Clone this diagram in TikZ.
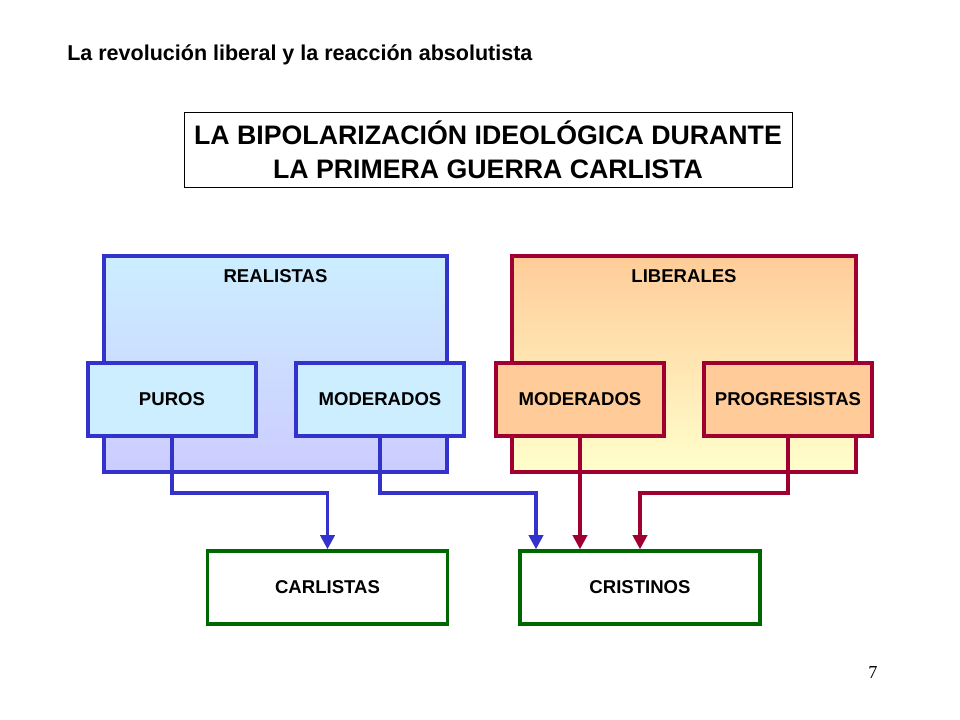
\documentclass[tikz,border=0pt]{standalone}
\usepackage{fontspec}
\setmainfont{Liberation Serif}
\setsansfont{Liberation Sans}
\usepackage{xcolor}
\usetikzlibrary{arrows.meta, positioning, calc}
\definecolor{realblue}{HTML}{3333CC}
\definecolor{libred}{HTML}{A00030}
\definecolor{resgreen}{HTML}{006600}
\definecolor{realtop}{HTML}{CCEEFF}
\definecolor{realbot}{HTML}{CCCCFF}
\definecolor{libtop}{HTML}{FFCC99}
\definecolor{libbot}{HTML}{FFFFCC}
\begin{document}
\begin{tikzpicture}[
    x=0.025cm, y=-0.025cm,
    sub/.style={draw, line width=2.4pt, minimum width=4.2cm, minimum height=1.825cm, inner sep=0pt, font=\sffamily\bfseries\fontsize{13.2}{15}\selectfont},
    result/.style={draw=resgreen, fill=white, line width=2.4pt, minimum width=6cm, minimum height=1.825cm, font=\sffamily\bfseries\fontsize{13.2}{15}\selectfont},
    arrow/.style={-{Triangle[length=10pt,width=10pt]}, line width=2.4pt},
]
\useasboundingbox (0,0) rectangle (960,720);

% Headings
\node[anchor=west, inner sep=0pt, font=\sffamily\bfseries\fontsize{15.3}{17}\selectfont] (header) at (67,55) {La revolución liberal y la reacción absolutista};
\node[draw, line width=0.5pt, minimum width=15.2cm, minimum height=1.875cm, align=center,
      font=\sffamily\bfseries\fontsize{19}{24}\selectfont] (title) at (488,149.5)
      {LA BIPOLARIZACIÓN IDEOLÓGICA DURANTE\\LA PRIMERA GUERRA CARLISTA};

% Groups
\filldraw[draw=realblue, line width=2.4pt, top color=realtop, bottom color=realbot] (104,256) rectangle (447,472);
\filldraw[draw=libred, line width=2.4pt, top color=libtop, bottom color=libbot] (512,256) rectangle (856,472);
\node[font=\sffamily\bfseries\fontsize{13.2}{15}\selectfont] (realistas) at (275.5,276) {REALISTAS};
\node[font=\sffamily\bfseries\fontsize{13.2}{15}\selectfont] (liberales) at (684,276) {LIBERALES};

% Factions
\node[sub, draw=realblue, fill=realtop] (puros) at (172,399.5) {PUROS};
\node[sub, draw=realblue, fill=realtop] (modr) at (380,399.5) {MODERADOS};
\node[sub, draw=libred, fill=libtop] (modl) at (580,399.5) {MODERADOS};
\node[sub, draw=libred, fill=libtop] (progr) at (788,399.5) {PROGRESISTAS};

% Results
\node[result] (carlistas) at (327.5,587.5) {CARLISTAS};
\node[result] (cristinos) at (640,587.5) {CRISTINOS};

% Arrows
\draw[arrow, realblue] (puros.south) |- (327.5,493) -- (carlistas.north);
\draw[arrow, realblue] (modr.south) |- (536,493) -- ($(cristinos.north)+(-104,0)$);
\draw[arrow, libred] (modl.south) -- ($(cristinos.north)+(-60,0)$);
\draw[arrow, libred] (progr.south) |- (640,493) -- (cristinos.north);

\node[font=\fontsize{13}{15}\selectfont] (pagenum) at (873,673) {7};
\end{tikzpicture}
\end{document}
